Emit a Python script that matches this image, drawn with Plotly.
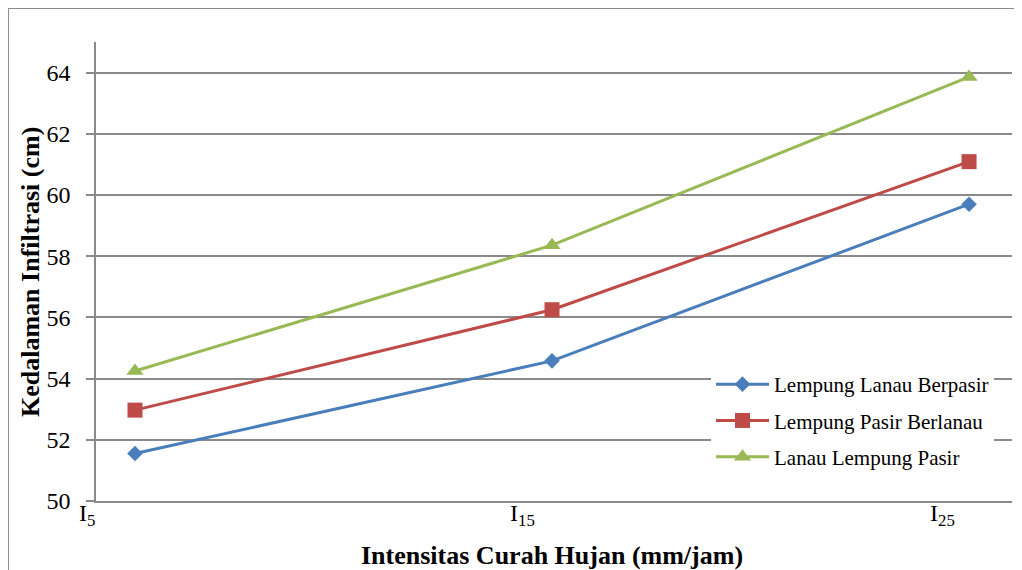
import plotly.graph_objects as go

# ---- data ----
intensity = [5, 15, 25]
tick_labels = ["I<sub>5</sub>", "I<sub>15</sub>", "I<sub>25</sub>"]
series_names = ["Lempung Lanau Berpasir", "Lempung Pasir Berlanau", "Lanau Lempung Pasir"]
lempung_lanau_berpasir = [51.55, 54.58, 59.70]
lempung_pasir_berlanau = [52.97, 56.25, 61.09]
lanau_lempung_pasir = [54.25, 58.36, 63.86]

FONT = "Liberation Serif, Times New Roman, serif"
GRID = "#8a8a8a"

styles = [
    dict(color="#4A7EBB", symbol="diamond", size=12),
    dict(color="#BE4B48", symbol="square", size=15),
    dict(color="#98B954", symbol="triangle-up", size=15),
]
values = [lempung_lanau_berpasir, lempung_pasir_berlanau, lanau_lempung_pasir]

fig = go.Figure()
for i, (name, vals, st) in enumerate(zip(series_names, values, styles)):
    fig.add_trace(go.Scatter(
        x=intensity, y=vals, name=name, mode="lines+markers",
        legendgroup=f"g{i}",
        line=dict(color=st["color"], width=3),
        marker=dict(color=st["color"], symbol=st["symbol"], size=st["size"]),
    ))

# page has 8px body margin; screen coords = figure coords + 8
OFF = 8
W, H = 1014, 562
L, R, T, B = 88, 10, 34, 69
pw, ph = W - L - R, H - T - B

def px(sx):
    return (sx - OFF - L) / pw

def py(sy):
    return (H - B - (sy - OFF)) / ph

shifts = [-48, -30, -27]
annotations = []
for xv, lab, sh in zip(intensity, tick_labels, shifts):
    annotations.append(dict(
        x=xv, y=0, xref="x", yref="paper", text=lab, showarrow=False,
        xanchor="center", yanchor="top", xshift=sh, yshift=3,
        font=dict(family=FONT, size=24, color="black"),
    ))

annotations.append(dict(
    x=px(552), y=py(555), xref="paper", yref="paper",
    text="<b>Intensitas Curah Hujan (mm/jam)</b>", showarrow=False,
    xanchor="center", yanchor="middle",
    font=dict(family=FONT, size=26, color="black"),
))
annotations.append(dict(
    x=px(30), y=py(272), xref="paper", yref="paper",
    text="<b>Kedalaman Infiltrasi (cm)</b>", showarrow=False, textangle=-90,
    xanchor="center", yanchor="middle",
    font=dict(family=FONT, size=26, color="black"),
))

fig.update_layout(
    width=W, height=H,
    margin=dict(l=L, r=R, t=T, b=B),
    paper_bgcolor="white", plot_bgcolor="white",
    font=dict(family=FONT, color="black"),
    showlegend=True,
    legend=dict(
        x=px(711), y=py(364), xanchor="left", yanchor="top",
        bgcolor="white", borderwidth=0,
        font=dict(family=FONT, size=21, color="black"),
        tracegroupgap=6, itemwidth=53,
    ),
    xaxis=dict(
        range=[4.065, 26.03], showgrid=False, zeroline=False,
        showline=True, linecolor=GRID, linewidth=1.5,
        showticklabels=False, ticks="",
    ),
    yaxis=dict(
        range=[50, 65], tickvals=[50, 52, 54, 56, 58, 60, 62, 64],
        showgrid=True, gridcolor=GRID, gridwidth=1.5, zeroline=False,
        showline=True, linecolor=GRID, linewidth=1.5,
        ticks="outside", ticklen=8, tickcolor=GRID, tickwidth=1.5,
        ticklabelstandoff=11,
        tickfont=dict(family=FONT, size=24, color="black"),
    ),
    annotations=annotations,
    shapes=[
        dict(type="line", xref="paper", yref="paper",
             x0=px(8.2), x1=px(8.2), y0=py(570), y1=py(8.2),
             line=dict(color=GRID, width=1.5), layer="below"),
        dict(type="line", xref="paper", yref="paper",
             x0=px(8.2), x1=px(1022), y0=py(8.2), y1=py(8.2),
             line=dict(color=GRID, width=1.5), layer="below"),
    ],
)

fig.write_html(
    "out.html",
    post_script="document.documentElement.style.overflow='hidden';document.body.style.overflow='hidden';",
)
